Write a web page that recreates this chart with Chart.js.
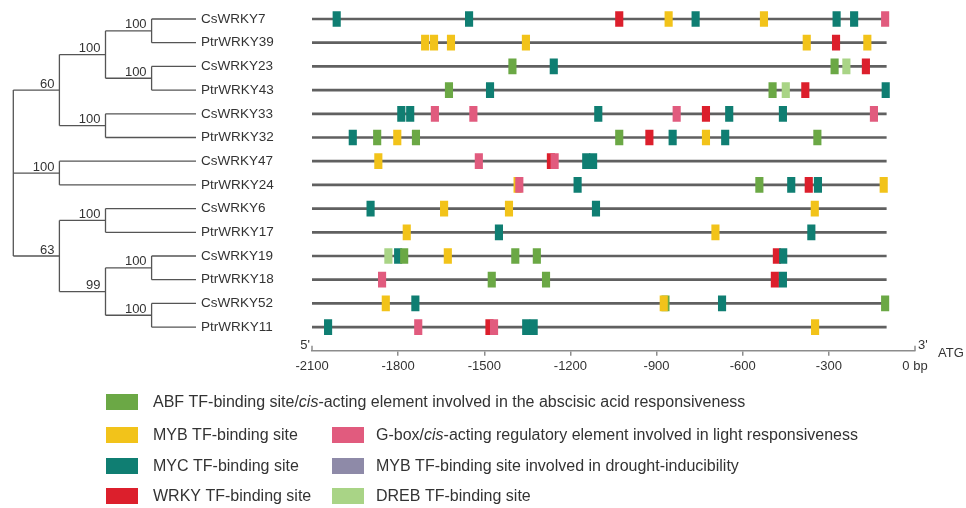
<!DOCTYPE html>
<html>
<head>
<meta charset="utf-8">
<script src="https://cdn.jsdelivr.net/npm/chart.js@4.4.1/dist/chart.umd.min.js"></script>
<style>
  html, body { margin: 0; padding: 0; background: #ffffff; }
  #wrap { position: relative; width: 966px; height: 508px; }
</style>
</head>
<body>
<div id="wrap"><canvas id="c" width="966" height="508"></canvas></div>
<script>
// Genes, top to bottom
const genes = ['CsWRKY7', 'PtrWRKY39', 'CsWRKY23', 'PtrWRKY43', 'CsWRKY33', 'PtrWRKY32', 'CsWRKY47',
               'PtrWRKY24', 'CsWRKY6', 'PtrWRKY17', 'CsWRKY19', 'PtrWRKY18', 'CsWRKY52', 'PtrWRKY11'];

// Site centres (bp relative to ATG) for each cis-element type
const abfSites = [
  ['CsWRKY23', -1402], ['CsWRKY23', -280],
  ['PtrWRKY43', -1623], ['PtrWRKY43', -496],
  ['PtrWRKY32', -1873], ['PtrWRKY32', -1738], ['PtrWRKY32', -1030], ['PtrWRKY32', -340],
  ['PtrWRKY24', -542],
  ['CsWRKY19', -1779], ['CsWRKY19', -1392], ['CsWRKY19', -1317],
  ['PtrWRKY18', -1474], ['PtrWRKY18', -1285],
  ['CsWRKY52', -869], ['CsWRKY52', -104]
];
const mybSites = [
  ['CsWRKY7', -858], ['CsWRKY7', -526],
  ['PtrWRKY39', -1706], ['PtrWRKY39', -1675], ['PtrWRKY39', -1616], ['PtrWRKY39', -1355],
  ['PtrWRKY39', -377], ['PtrWRKY39', -166],
  ['PtrWRKY32', -1803], ['PtrWRKY32', -728],
  ['CsWRKY47', -1869],
  ['PtrWRKY24', -1384], ['PtrWRKY24', -109],
  ['CsWRKY6', -1640], ['CsWRKY6', -1414], ['CsWRKY6', -349],
  ['PtrWRKY17', -1770], ['PtrWRKY17', -695],
  ['CsWRKY19', -1627],
  ['CsWRKY52', -1843], ['CsWRKY52', -875],
  ['PtrWRKY11', -348]
];
const mycSites = [
  ['CsWRKY7', -2014], ['CsWRKY7', -1553], ['CsWRKY7', -764], ['CsWRKY7', -273], ['CsWRKY7', -212],
  ['CsWRKY23', -1258],
  ['PtrWRKY43', -1480], ['PtrWRKY43', -102],
  ['CsWRKY33', -1789], ['CsWRKY33', -1758], ['CsWRKY33', -1103], ['CsWRKY33', -647], ['CsWRKY33', -460],
  ['PtrWRKY32', -1958], ['PtrWRKY32', -844], ['PtrWRKY32', -661],
  ['CsWRKY47', -1145], ['CsWRKY47', -1121],
  ['PtrWRKY24', -1175], ['PtrWRKY24', -431], ['PtrWRKY24', -338],
  ['CsWRKY6', -1896], ['CsWRKY6', -1111],
  ['PtrWRKY17', -1449], ['PtrWRKY17', -361],
  ['CsWRKY19', -1800], ['CsWRKY19', -459],
  ['PtrWRKY18', -460],
  ['CsWRKY52', -1740], ['CsWRKY52', -672],
  ['PtrWRKY11', -2044], ['PtrWRKY11', -1354], ['PtrWRKY11', -1328]
];
const wrkySites = [
  ['CsWRKY7', -1030], ['PtrWRKY39', -275], ['CsWRKY23', -171], ['PtrWRKY43', -382],
  ['CsWRKY33', -728], ['PtrWRKY32', -925], ['CsWRKY47', -1268], ['PtrWRKY24', -370],
  ['CsWRKY19', -481], ['PtrWRKY18', -488], ['PtrWRKY11', -1482]
];
const gboxSites = [
  ['CsWRKY7', -104],
  ['CsWRKY33', -1672], ['CsWRKY33', -1538], ['CsWRKY33', -830], ['CsWRKY33', -143],
  ['CsWRKY47', -1519], ['CsWRKY47', -1255],
  ['PtrWRKY24', -1378],
  ['PtrWRKY18', -1856],
  ['PtrWRKY11', -1730], ['PtrWRKY11', -1466]
];
const droughtMybSites = [];
const drebSites = [['CsWRKY23', -239], ['PtrWRKY43', -450], ['CsWRKY19', -1834]];

// Promoter extent and axis ticks
const promoterStart = -2100;
const promoterEnd = -100;
const xTicks = [-2100, -1800, -1500, -1200, -900, -600, -300, 0];
const xTickLabels = ['-2100', '-1800', '-1500', '-1200', '-900', '-600', '-300', '0 bp'];

// Neighbour-joining tree: [bootstrap, child, child, ...]
const tree = [null,
  [60, [100, [100, 'CsWRKY7', 'PtrWRKY39'], [100, 'CsWRKY23', 'PtrWRKY43']], [100, 'CsWRKY33', 'PtrWRKY32']],
  [100, 'CsWRKY47', 'PtrWRKY24'],
  [63, [100, 'CsWRKY6', 'PtrWRKY17'], [99, [100, 'CsWRKY19', 'PtrWRKY18'], [100, 'CsWRKY52', 'PtrWRKY11']]]
];

const SITE_BP = 26;
const FONT = '"Liberation Sans", Arial, Helvetica, sans-serif';
const TEXT = '#333333';

function toBars(sites) {
  return sites.map(([g, p]) => ({ x: [p - SITE_BP / 2, p + SITE_BP / 2], y: genes.indexOf(g) }));
}

function siteSet(label, sites, color, order) {
  return {
    label, data: toBars(sites), backgroundColor: color, borderWidth: 0,
    barThickness: 15, grouped: false, order
  };
}

const datasets = [
  siteSet('ABF TF-binding site/cis-acting element involved in the abscisic acid responsiveness', abfSites, '#6ba845', 2),
  siteSet('MYB TF-binding site', mybSites, '#f2c31a', 1),
  siteSet('MYC TF-binding site', mycSites, '#0f7e72', 3),
  siteSet('WRKY TF-binding site', wrkySites, '#dc1f2c', 4),
  siteSet('G-box/cis-acting regulatory element involved in light responsiveness', gboxSites, '#e15b7e', 0),
  siteSet('MYB TF-binding site involved in drought-inducibility', droughtMybSites, '#8e8aa8', 5),
  siteSet('DREB TF-binding site', drebSites, '#a9d486', 2),
  {
    label: 'promoter', data: genes.map((g, i) => ({ x: [promoterStart, promoterEnd], y: i })),
    backgroundColor: '#606060', borderWidth: 0, barThickness: 2, grouped: false, order: 10
  }
];

// Legend grid positions: [dataset index, column, row]
const legendCells = [[0, 0, 0], [1, 0, 1], [4, 1, 1], [2, 0, 2], [5, 1, 2], [3, 0, 3], [6, 1, 3]];

const treePlugin = {
  id: 'tree',
  afterDraw(chart) {
    const ctx = chart.ctx;
    const ys = chart.scales.y;
    const rootX = 13.3, step = 46.1, leafEnd = ys.left - 5;
    ctx.save();
    ctx.strokeStyle = '#555555';
    ctx.lineWidth = 1.3;
    ctx.fillStyle = TEXT;
    ctx.font = '13px ' + FONT;
    ctx.textAlign = 'right';
    ctx.textBaseline = 'alphabetic';
    const seg = (x1, y1, x2, y2) => { ctx.beginPath(); ctx.moveTo(x1, y1); ctx.lineTo(x2, y2); ctx.stroke(); };
    function walk(node, depth) {
      if (typeof node === 'string') {
        return { leaf: true, y: ys.getPixelForValue(genes.indexOf(node)) };
      }
      const [support, ...kids] = node;
      const x = rootX + depth * step;
      const placed = kids.map(k => walk(k, depth + 1));
      const y0 = placed[0].y, y1 = placed[placed.length - 1].y;
      seg(x, y0, x, y1);
      placed.forEach(p => {
        seg(x, p.y, p.leaf ? leafEnd : p.x, p.y);
        if (!p.leaf && p.support != null) ctx.fillText(String(p.support), p.x - 5, p.y - 2.5);
      });
      return { leaf: false, x, y: (y0 + y1) / 2, support };
    }
    walk(tree, 0);
    ctx.restore();
  }
};

const axisMarksPlugin = {
  id: 'axisMarks',
  afterDraw(chart) {
    const ctx = chart.ctx;
    const xs = chart.scales.x;
    const y = xs.top;
    const xl = xs.getPixelForValue(-2100), xr = xs.getPixelForValue(0);
    ctx.save();
    ctx.strokeStyle = '#8c8c8c';
    ctx.lineWidth = 1.5;
    [xl, xr].forEach(x => { ctx.beginPath(); ctx.moveTo(x, y); ctx.lineTo(x, y - 5); ctx.stroke(); });
    ctx.fillStyle = TEXT;
    ctx.font = '13px ' + FONT;
    ctx.textBaseline = 'alphabetic';
    ctx.textAlign = 'right';
    ctx.fillText("5'", xl - 2, y - 2);
    ctx.textAlign = 'left';
    ctx.fillText("3'", xr + 3, y - 2);
    ctx.fillText('ATG', xr + 23, y + 6);
    ctx.restore();
  }
};

const legendPlugin = {
  id: 'cisLegend',
  afterDraw(chart) {
    const ctx = chart.ctx;
    const swatchX = [106, 332], textX = [153, 376], rowY = [402, 435, 466, 496];
    ctx.save();
    ctx.textBaseline = 'middle';
    ctx.textAlign = 'left';
    legendCells.forEach(([di, col, row]) => {
      const ds = chart.data.datasets[di];
      const cy = rowY[row];
      ctx.fillStyle = ds.backgroundColor;
      ctx.fillRect(swatchX[col], cy - 8, 32, 16);
      ctx.fillStyle = TEXT;
      let x = textX[col];
      ds.label.split(/(cis)(?=-acting)/).forEach(part => {
        if (!part) return;
        ctx.font = (part === 'cis' ? 'italic ' : '') + '16px ' + FONT;
        ctx.fillText(part, x, cy + 1);
        x += ctx.measureText(part).width;
      });
    });
    ctx.restore();
  }
};

new Chart(document.getElementById('c'), {
  type: 'bar',
  data: { datasets },
  options: {
    indexAxis: 'y',
    responsive: false,
    animation: false,
    devicePixelRatio: 1,
    events: [],
    layout: { padding: { left: 201, right: 51, top: 7.15, bottom: 0 } },
    plugins: { legend: { display: false }, tooltip: { enabled: false } },
    scales: {
      x: {
        type: 'linear', min: -2100, max: 0, offset: false,
        afterBuildTicks: (axis) => { axis.ticks = xTicks.map(v => ({ value: v })); },
        afterFit: (axis) => { axis.height = 508 - 350.8; axis.paddingLeft = 0; axis.paddingRight = 0; },
        ticks: {
          callback: (v, i) => xTickLabels[i],
          font: { family: FONT, size: 13 }, color: TEXT, padding: 3,
          maxRotation: 0, autoSkip: false
        },
        grid: {
          drawOnChartArea: false, drawTicks: true, tickLength: 5, lineWidth: 1.5, offset: false,
          color: (c) => (c.index === 0 || c.index === xTicks.length - 1) ? 'rgba(0,0,0,0)' : '#8c8c8c'
        },
        border: { display: true, color: '#8c8c8c', width: 1.5 }
      },
      y: {
        type: 'linear', reverse: true, min: -0.5, max: 14, offset: false,
        afterBuildTicks: (axis) => { axis.ticks = genes.map((g, i) => ({ value: i })); },
        afterFit: (axis) => { axis.width = 111; axis.paddingTop = 0; axis.paddingBottom = 0; },
        ticks: {
          callback: (v) => genes[v], crossAlign: 'far', autoSkip: false,
          font: { family: FONT, size: 13.5 }, color: TEXT, padding: 0
        },
        grid: { display: false, drawTicks: false, offset: false },
        border: { display: false }
      }
    }
  },
  plugins: [treePlugin, axisMarksPlugin, legendPlugin]
});
</script>
</body>
</html>
